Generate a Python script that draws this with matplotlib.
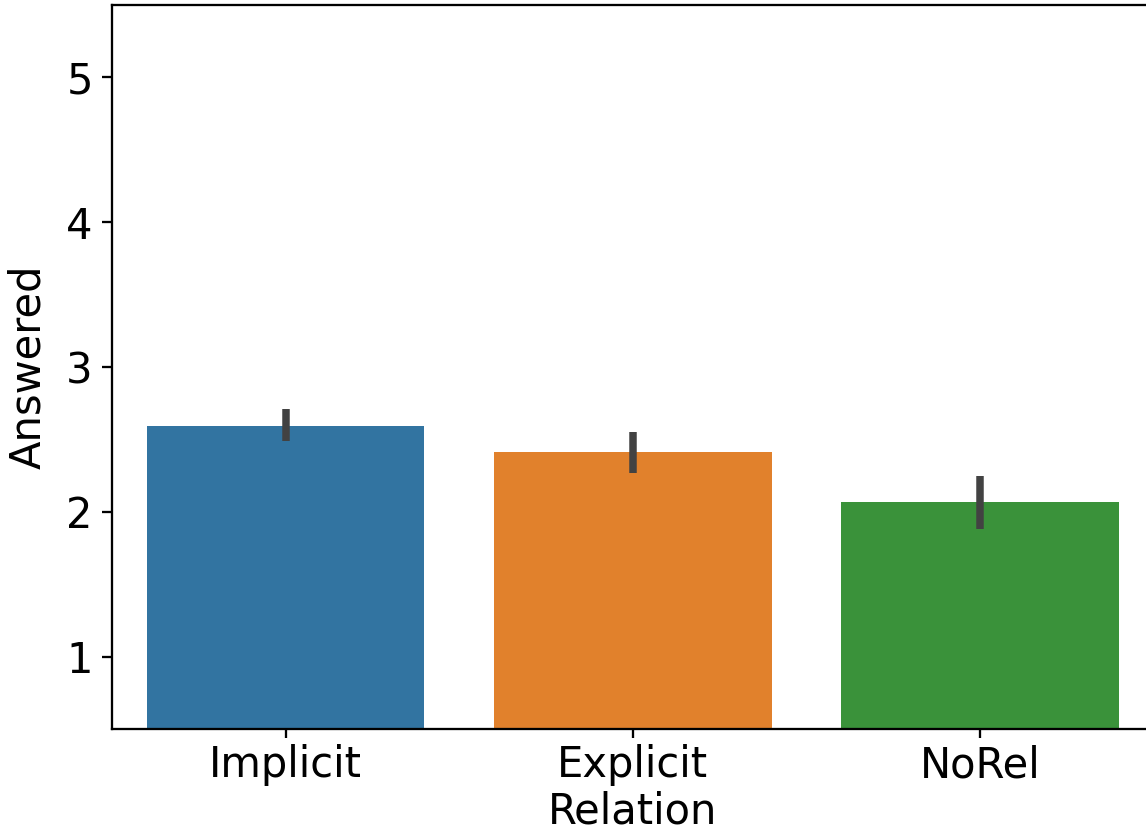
import matplotlib
matplotlib.use("Agg")
import matplotlib.pyplot as plt

categories = ["Implicit", "Explicit", "NoRel"]
means = [2.59, 2.41, 2.07]
ci_low = [2.49, 2.27, 1.88]
ci_high = [2.71, 2.55, 2.25]
colors = ["#3274a1", "#e1812c", "#3a923a"]

fig = plt.figure(figsize=(1146 / 300, 831 / 300), dpi=300)
ax = fig.add_axes([0.0977, 0.1227, 0.9088, 0.8713])

x = range(len(categories))
ax.bar(x, means, width=0.8, color=colors, zorder=1)
ax.vlines(x, ci_low, ci_high, color="#424242", linewidth=1.8, zorder=2)

ax.set_xlim(-0.5, len(categories) - 0.5)
ax.set_ylim(0.5, 5.5)
ax.set_yticks([1, 2, 3, 4, 5])
ax.set_xticks(list(x))
ax.set_xticklabels(categories)

for spine in ax.spines.values():
    spine.set_linewidth(0.55)
ax.tick_params(axis="x", length=2.2, width=0.55, pad=1.4)
ax.tick_params(axis="y", length=2.4, width=0.55, pad=2.2)

ax.set_xlabel("Relation", labelpad=1)
ax.set_ylabel("Answered", labelpad=4)

fig.savefig("out.png", dpi=300)
